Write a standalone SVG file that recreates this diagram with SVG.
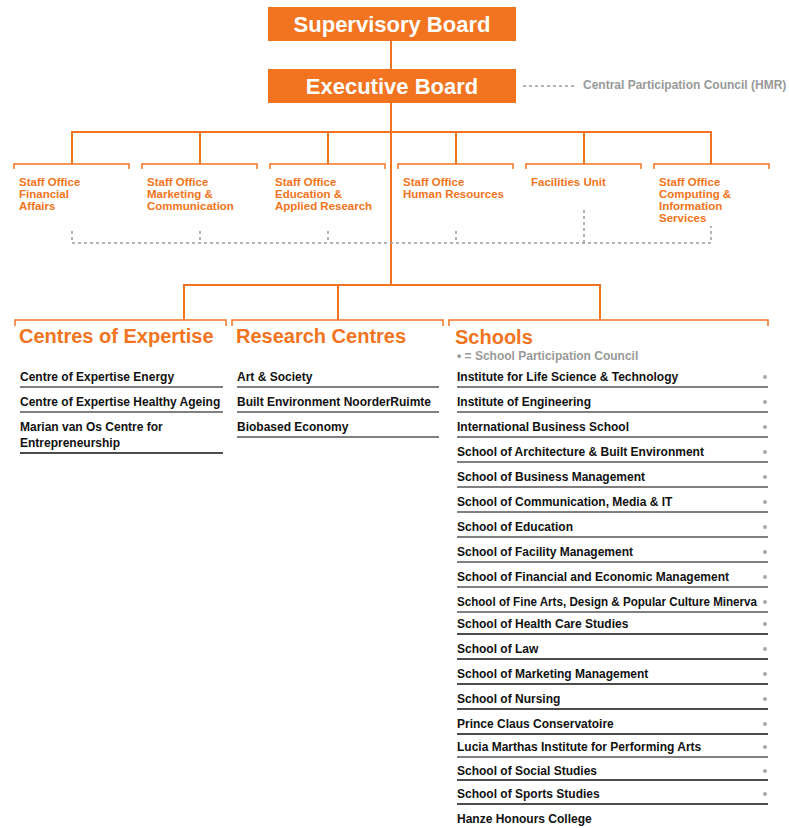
<svg xmlns="http://www.w3.org/2000/svg" width="789" height="828" viewBox="0 0 789 828">
<style>
text{font-family:"Liberation Sans",Arial,sans-serif;font-weight:bold}
.box{fill:#F27420}
.boxt{fill:#fff;font-size:22px;text-anchor:middle}
.conn{stroke:#F27420;stroke-width:2;fill:none}
.br{stroke:#F27420;stroke-width:1.5;fill:none}
.dot{stroke:#9a9a9a;stroke-width:1.5;stroke-dasharray:3 3;fill:none}
.so{fill:#F27420;font-size:11.5px}
.hd{fill:#F27420;font-size:20px}
.it{fill:#111;font-size:12px}
.ug{stroke:#808080;stroke-width:2}
.ub{stroke:#111;stroke-width:1.5}
.gr{fill:#999;font-size:12px}
.bu{fill:#a8a8a8}
</style>
<g id="connectors">
<line class="conn" x1="391" y1="40" x2="391" y2="69"/>
<line class="conn" x1="391" y1="102" x2="391" y2="285"/>
<polyline class="conn" points="72,164 72,132 711,132 711,164"/>
<line class="conn" x1="200" y1="132" x2="200" y2="164"/>
<line class="conn" x1="328" y1="132" x2="328" y2="164"/>
<line class="conn" x1="456" y1="132" x2="456" y2="164"/>
<line class="conn" x1="584" y1="132" x2="584" y2="164"/>
<polyline class="conn" points="184,320 184,285 600,285 600,320"/>
<line class="conn" x1="338" y1="285" x2="338" y2="320"/>
<line class="dot" x1="523" y1="86" x2="577" y2="86"/>
<polyline class="dot" points="72,231 72,243 711,243 711,226"/>
<line class="dot" x1="200" y1="231" x2="200" y2="243"/>
<line class="dot" x1="328" y1="231" x2="328" y2="243"/>
<line class="dot" x1="456" y1="231" x2="456" y2="243"/>
<line class="dot" x1="584" y1="210" x2="584" y2="243"/>
</g>
<g id="supervisory-board">
<rect class="box" x="268" y="7" width="248" height="34"/>
<text class="boxt" x="392" y="32">Supervisory Board</text>
</g>
<g id="executive-board">
<rect class="box" x="268" y="69" width="248" height="34"/>
<text class="boxt" x="392" y="94">Executive Board</text>
</g>
<g id="central-participation-council">
<text class="gr" x="583" y="89">Central Participation Council (HMR)</text>
</g>
<g id="staff-financial">
<polyline class="br" points="14,169 14,164 129,164 129,169"/>
<text class="so" x="19" y="186">Staff Office</text>
<text class="so" x="19" y="198">Financial</text>
<text class="so" x="19" y="210">Affairs</text>
</g>
<g id="staff-marketing">
<polyline class="br" points="142,169 142,164 257,164 257,169"/>
<text class="so" x="147" y="186">Staff Office</text>
<text class="so" x="147" y="198">Marketing &amp;</text>
<text class="so" x="147" y="210">Communication</text>
</g>
<g id="staff-education">
<polyline class="br" points="270,169 270,164 385,164 385,169"/>
<text class="so" x="275" y="186">Staff Office</text>
<text class="so" x="275" y="198">Education &amp;</text>
<text class="so" x="275" y="210">Applied Research</text>
</g>
<g id="staff-hr">
<polyline class="br" points="398,169 398,164 513,164 513,169"/>
<text class="so" x="403" y="186">Staff Office</text>
<text class="so" x="403" y="198">Human Resources</text>
</g>
<g id="facilities-unit">
<polyline class="br" points="526,169 526,164 641,164 641,169"/>
<text class="so" x="531" y="186">Facilities Unit</text>
</g>
<g id="staff-computing">
<polyline class="br" points="654,169 654,164 769,164 769,169"/>
<text class="so" x="659" y="186">Staff Office</text>
<text class="so" x="659" y="198">Computing &amp;</text>
<text class="so" x="659" y="210">Information</text>
<text class="so" x="659" y="222">Services</text>
</g>
<g id="centres-of-expertise">
<polyline class="br" points="15,326 15,320 226,320 226,326"/>
<text class="hd" x="19" y="343">Centres of Expertise</text>
<text class="it" x="20" y="381">Centre of Expertise Energy</text>
<line class="ug" x1="20" y1="387" x2="223" y2="387"/>
<text class="it" x="20" y="406">Centre of Expertise Healthy Ageing</text>
<line class="ug" x1="20" y1="412" x2="223" y2="412"/>
<text class="it" x="20" y="431">Marian van Os Centre for</text>
<text class="it" x="20" y="447">Entrepreneurship</text>
<line class="ub" x1="20" y1="453" x2="223" y2="453"/>
</g>
<g id="research-centres">
<polyline class="br" points="232,326 232,320 443,320 443,326"/>
<text class="hd" x="236" y="343">Research Centres</text>
<text class="it" x="237" y="381">Art &amp; Society</text>
<line class="ug" x1="237" y1="387" x2="439" y2="387"/>
<text class="it" x="237" y="406">Built Environment NoorderRuimte</text>
<line class="ug" x1="237" y1="412" x2="439" y2="412"/>
<text class="it" x="237" y="431">Biobased Economy</text>
<line class="ug" x1="237" y1="437" x2="439" y2="437"/>
</g>
<g id="schools">
<polyline class="br" points="449,326 449,320 768,320 768,326"/>
<text class="hd" x="455" y="344">Schools</text>
<text class="gr" x="457" y="360">• = School Participation Council</text>
<text class="it" x="457" y="381">Institute for Life Science &amp; Technology</text>
<line class="ug" x1="457" y1="387" x2="768" y2="387"/>
<text class="it" x="457" y="406">Institute of Engineering</text>
<line class="ug" x1="457" y1="412" x2="768" y2="412"/>
<text class="it" x="457" y="431">International Business School</text>
<line class="ug" x1="457" y1="437" x2="768" y2="437"/>
<text class="it" x="457" y="456">School of Architecture &amp; Built Environment</text>
<line class="ug" x1="457" y1="462" x2="768" y2="462"/>
<text class="it" x="457" y="481">School of Business Management</text>
<line class="ug" x1="457" y1="487" x2="768" y2="487"/>
<text class="it" x="457" y="506">School of Communication, Media &amp; IT</text>
<line class="ug" x1="457" y1="512" x2="768" y2="512"/>
<text class="it" x="457" y="531">School of Education</text>
<line class="ug" x1="457" y1="537" x2="768" y2="537"/>
<text class="it" x="457" y="556">School of Facility Management</text>
<line class="ug" x1="457" y1="562" x2="768" y2="562"/>
<text class="it" x="457" y="581">School of Financial and Economic Management</text>
<line class="ug" x1="457" y1="587" x2="768" y2="587"/>
<text class="it" x="457" y="606" textLength="300" lengthAdjust="spacingAndGlyphs">School of Fine Arts, Design &amp; Popular Culture Minerva</text>
<line class="ug" x1="457" y1="612" x2="768" y2="612"/>
<text class="it" x="457" y="628">School of Health Care Studies</text>
<line class="ub" x1="457" y1="634" x2="768" y2="634"/>
<text class="it" x="457" y="653">School of Law</text>
<line class="ub" x1="457" y1="659" x2="768" y2="659"/>
<text class="it" x="457" y="678">School of Marketing Management</text>
<line class="ub" x1="457" y1="684" x2="768" y2="684"/>
<text class="it" x="457" y="703">School of Nursing</text>
<line class="ub" x1="457" y1="709" x2="768" y2="709"/>
<text class="it" x="457" y="728">Prince Claus Conservatoire</text>
<line class="ub" x1="457" y1="734" x2="768" y2="734"/>
<text class="it" x="457" y="751">Lucia Marthas Institute for Performing Arts</text>
<line class="ug" x1="457" y1="757" x2="768" y2="757"/>
<text class="it" x="457" y="775">School of Social Studies</text>
<line class="ub" x1="457" y1="780" x2="768" y2="780"/>
<text class="it" x="457" y="798">School of Sports Studies</text>
<line class="ub" x1="457" y1="804" x2="768" y2="804"/>
<text class="it" x="457" y="823">Hanze Honours College</text>
<circle class="bu" cx="765" cy="377" r="2"/>
<circle class="bu" cx="765" cy="402" r="2"/>
<circle class="bu" cx="765" cy="427" r="2"/>
<circle class="bu" cx="765" cy="452" r="2"/>
<circle class="bu" cx="765" cy="477" r="2"/>
<circle class="bu" cx="765" cy="502" r="2"/>
<circle class="bu" cx="765" cy="527" r="2"/>
<circle class="bu" cx="765" cy="552" r="2"/>
<circle class="bu" cx="765" cy="577" r="2"/>
<circle class="bu" cx="765" cy="602" r="2"/>
<circle class="bu" cx="765" cy="624" r="2"/>
<circle class="bu" cx="765" cy="649" r="2"/>
<circle class="bu" cx="765" cy="674" r="2"/>
<circle class="bu" cx="765" cy="699" r="2"/>
<circle class="bu" cx="765" cy="724" r="2"/>
<circle class="bu" cx="765" cy="747" r="2"/>
<circle class="bu" cx="765" cy="771" r="2"/>
<circle class="bu" cx="765" cy="794" r="2"/>
</g>
</svg>
